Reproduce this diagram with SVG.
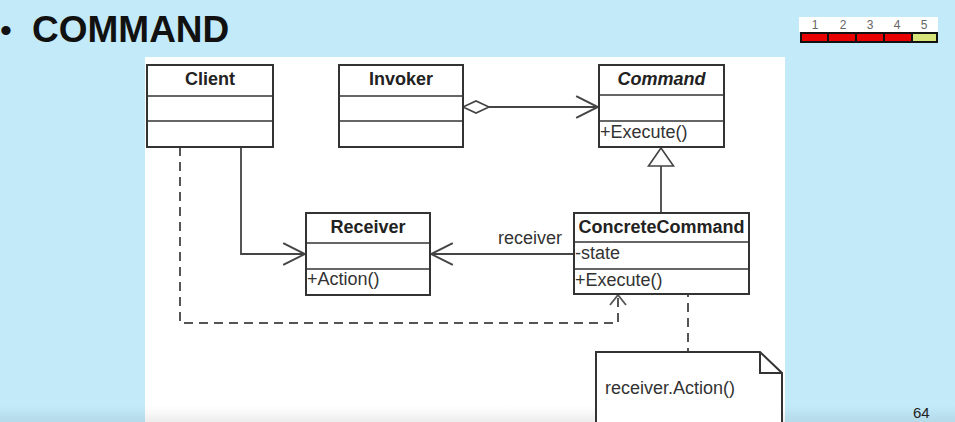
<svg xmlns="http://www.w3.org/2000/svg" width="955" height="422" viewBox="0 0 955 422">
<defs>
<style>
.box{fill:#fff;stroke:#333;stroke-width:2}
.div{stroke:#333;stroke-width:1.6}
.ln{fill:none;stroke:#444;stroke-width:1.8}
.dash{fill:none;stroke:#555;stroke-width:2;stroke-dasharray:9 6}
.t{font-family:"Liberation Sans",Arial,sans-serif;font-size:18px;fill:#333}
.b{font-weight:bold;fill:#222;text-anchor:middle}
.num{font-family:"Liberation Sans",Arial,sans-serif;font-size:12px;fill:#666;text-anchor:middle}
</style>
<marker id="open" markerUnits="userSpaceOnUse" markerWidth="24" markerHeight="24" viewBox="0 0 22 22" refX="21" refY="11" orient="auto">
<path d="M1,1 L21,11 L1,21" fill="none" stroke="#444" stroke-width="1.8"/>
</marker>
<marker id="openS" markerUnits="userSpaceOnUse" markerWidth="20" markerHeight="20" viewBox="0 0 12 20" refX="11" refY="10" orient="auto">
<path d="M1,2 L11,10 L1,18" fill="none" stroke="#555" stroke-width="1.8"/>
</marker>
<linearGradient id="shade" x1="0" y1="0" x2="0" y2="1">
<stop offset="0" stop-color="#000" stop-opacity="0"/>
<stop offset="1" stop-color="#000" stop-opacity="0.07"/>
</linearGradient>
</defs>
<rect x="0" y="0" width="955" height="422" fill="#c2eaf9"/>
<rect x="145" y="57" width="640" height="365" fill="#fff"/>
<rect x="0" y="406" width="955" height="16" fill="url(#shade)"/>
<text x="0" y="42" font-family="'Liberation Sans',Arial,sans-serif" font-size="34" fill="#111">•</text>
<text x="32" y="42" font-family="'Liberation Sans',Arial,sans-serif" font-size="37" font-weight="bold" fill="#111">COMMAND</text>
<g id="progress">
<rect x="799" y="17" width="139" height="15" fill="#fff"/>
<text class="num" x="815" y="29">1</text>
<text class="num" x="843" y="29">2</text>
<text class="num" x="870" y="29">3</text>
<text class="num" x="897" y="29">4</text>
<text class="num" x="924" y="29">5</text>
<rect x="800" y="32" width="138" height="11" fill="#111"/>
<rect x="802" y="34" width="25" height="7" fill="#e80000"/>
<rect x="829" y="34" width="26" height="7" fill="#e80000"/>
<rect x="857" y="34" width="26" height="7" fill="#e80000"/>
<rect x="885" y="34" width="26" height="7" fill="#e80000"/>
<rect x="913" y="34" width="23" height="7" fill="#d6e47a"/>
</g>
<g id="connectors">
<path class="ln" d="M241,147 L241,254 L305,254" marker-end="url(#open)"/>
<path class="dash" d="M180,147 L180,323 L618,323 L618,295" marker-end="url(#openS)"/>
<path class="ln" d="M488,107 L598,107" marker-end="url(#open)"/>
<path d="M463,107 L476,101 L489,107 L476,113 Z" fill="#fff" stroke="#444" stroke-width="1.6"/>
<path class="ln" d="M574,254 L431,254" marker-end="url(#open)"/>
<path class="ln" d="M661,213 L661,166"/>
<path d="M661,148 L673.5,166 L648.5,166 Z" fill="#fff" stroke="#444" stroke-width="1.6"/>
<path class="dash" d="M688,288 L688,352"/>
<text class="t" x="498" y="244">receiver</text>
</g>
<g id="client">
<rect class="box" x="147" y="65" width="126" height="82"/>
<line class="div" x1="147" y1="96" x2="273" y2="96"/>
<line class="div" x1="147" y1="121" x2="273" y2="121"/>
<text class="t b" x="210" y="85">Client</text>
</g>
<g id="invoker">
<rect class="box" x="339" y="65" width="124" height="82"/>
<line class="div" x1="339" y1="96" x2="463" y2="96"/>
<line class="div" x1="339" y1="121" x2="463" y2="121"/>
<text class="t b" x="401" y="85">Invoker</text>
</g>
<g id="command">
<rect class="box" x="599" y="65" width="125" height="82"/>
<line class="div" x1="599" y1="95" x2="724" y2="95"/>
<line class="div" x1="599" y1="121" x2="724" y2="121"/>
<text class="t b" x="661.5" y="85" font-style="italic">Command</text>
<text class="t" x="600" y="138">+Execute()</text>
</g>
<g id="receiver">
<rect class="box" x="306" y="213" width="124" height="82"/>
<line class="div" x1="306" y1="243" x2="430" y2="243"/>
<line class="div" x1="306" y1="269" x2="430" y2="269"/>
<text class="t b" x="368" y="233">Receiver</text>
<text class="t" x="307" y="285">+Action()</text>
</g>
<g id="concretecommand">
<rect class="box" x="574" y="213" width="175" height="81"/>
<line class="div" x1="574" y1="242" x2="749" y2="242"/>
<line class="div" x1="574" y1="269" x2="749" y2="269"/>
<text class="t b" x="661.5" y="233">ConcreteCommand</text>
<text class="t" x="575" y="259">-state</text>
<text class="t" x="575" y="286">+Execute()</text>
</g>
<g id="note">
<path d="M596,423 L596,352 L760,352 L782,373 L782,423" fill="#fff" stroke="#333" stroke-width="2"/>
<path d="M760,352 L760,373 L782,373" fill="none" stroke="#333" stroke-width="2"/>
<text class="t" x="605" y="394">receiver.Action()</text>
</g>
<text x="913" y="418" font-family="'Liberation Sans',Arial,sans-serif" font-size="15" fill="#222">64</text>
</svg>
